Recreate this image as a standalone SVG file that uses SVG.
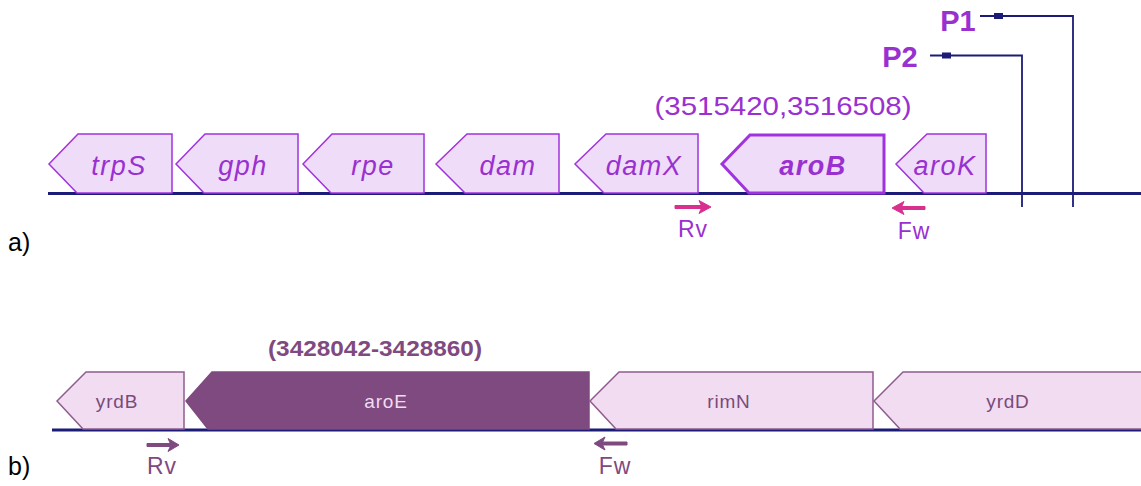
<svg xmlns="http://www.w3.org/2000/svg" width="1141" height="486" viewBox="0 0 1141 486">
<style>
.ga{fill:#efdcf8;stroke:#a033dd;stroke-width:1.5}
.gat{font-family:"Liberation Sans",Arial,sans-serif;font-style:italic;font-size:27px;letter-spacing:1.5px;fill:#9a30d0;text-anchor:middle}
.gb{fill:#f1dcf1;stroke:#8f5c8f;stroke-width:1.5}
.gbd{fill:#7f4a7f;stroke:#7f4a7f;stroke-width:1.5}
.gbt{font-family:"Liberation Sans",Arial,sans-serif;font-size:19px;letter-spacing:0.8px;fill:#7a4a7a;text-anchor:middle}
.base{stroke:#1c1c78;stroke-width:3;fill:none}
.prom{stroke:#1c1c78;stroke-width:1.8;fill:none}
.lbl{font-family:"Liberation Sans",Arial,sans-serif;font-size:25px;fill:#000}
.pa{fill:#d8308e;stroke:#d8308e;stroke-width:1;stroke-linejoin:round}
.pb{fill:#7f4a7f;stroke:#7f4a7f;stroke-width:1;stroke-linejoin:round}
.pta{font-family:"Liberation Sans",Arial,sans-serif;font-size:23px;letter-spacing:1px;fill:#9a30d0;text-anchor:middle}
.ptb{font-family:"Liberation Sans",Arial,sans-serif;font-size:23px;letter-spacing:1px;fill:#7f4a7f;text-anchor:middle}
</style>
<text class="lbl" x="8" y="251">a)</text>
<text class="lbl" x="8" y="475">b)</text>
<g id="connectors">
<line class="base" x1="48" y1="193.5" x2="1141" y2="193.5"/>
<line class="base" x1="52" y1="430" x2="1141" y2="430"/>
<polyline class="prom" points="980,16 1073,16 1073,207"/>
<polyline class="prom" points="930,55.5 1022,55.5 1022,207"/>
<rect x="994" y="13" width="9" height="6" fill="#1c1c78"/>
<rect x="942" y="52.5" width="9" height="6" fill="#1c1c78"/>
</g>
<g id="P1"><text x="958" y="31" font-family="Liberation Sans,Arial,sans-serif" font-weight="bold" font-size="29" fill="#9a30d0" text-anchor="middle">P1</text></g>
<g id="P2"><text x="900" y="67" font-family="Liberation Sans,Arial,sans-serif" font-weight="bold" font-size="29" fill="#9a30d0" text-anchor="middle">P2</text></g>
<text x="783" y="115" font-family="Liberation Sans,Arial,sans-serif" font-size="25" fill="#9a30d0" text-anchor="middle" textLength="257" lengthAdjust="spacingAndGlyphs">(3515420,3516508)</text>
<g id="trpS"><polygon class="ga" points="49,164 78,134 172,134 172,193 77,193"/><text class="gat" x="119" y="175">trpS</text></g>
<g id="gph"><polygon class="ga" points="176,164 205,134 298,134 298,193 204,193"/><text class="gat" x="243" y="175">gph</text></g>
<g id="rpe"><polygon class="ga" points="303,164 332,134 424,134 424,193 331,193"/><text class="gat" x="373" y="175">rpe</text></g>
<g id="dam"><polygon class="ga" points="436,164 467,134 559,134 559,193 465,193"/><text class="gat" x="508" y="175">dam</text></g>
<g id="damX"><polygon class="ga" points="575,164 606,134 698,134 698,193 604,193"/><text class="gat" x="644" y="175">damX</text></g>
<g id="aroB"><polygon class="ga" style="stroke-width:3" points="722,164 750,135 884,135 884,193 749,193"/><text class="gat" x="813" y="175" font-weight="bold">aroB</text></g>
<g id="aroK"><polygon class="ga" points="896,164 927,134 986,134 986,193 924,193"/><text class="gat" x="945" y="175">aroK</text></g>
<g id="Rv-a"><path class="pa" d="M675,205.5 H703 V208.5 H675 Z M699,200.5 L711,207 L699,213.5 L702,207 Z"/><text class="pta" x="693" y="237">Rv</text></g>
<g id="Fw-a"><path class="pa" d="M925,206.5 H896 V209.5 H925 Z M904,201.5 L892,208 L904,214.5 L901,208 Z"/><text class="pta" x="914" y="239">Fw</text></g>
<text x="375" y="356" font-family="Liberation Sans,Arial,sans-serif" font-weight="bold" font-size="22" fill="#7f4a7f" text-anchor="middle" textLength="214" lengthAdjust="spacingAndGlyphs">(3428042-3428860)</text>
<g id="yrdB"><polygon class="gb" points="57,401 86,372 184,372 184,429 83,429"/><text class="gbt" x="117" y="408">yrdB</text></g>
<g id="aroE"><polygon class="gbd" points="186,401 212,372 589,372 589,429 208,429"/><text class="gbt" x="386" y="408" style="fill:#f1dcf1">aroE</text></g>
<g id="rimN"><polygon class="gb" points="590,401 619,372 873,372 873,429 616,429"/><text class="gbt" x="729" y="408">rimN</text></g>
<g id="yrdD"><polygon class="gb" points="874,401 903,372 1142,372 1142,429 900,429"/><text class="gbt" x="1008" y="408">yrdD</text></g>
<g id="Rv-b"><path class="pb" d="M147,443.5 H172 V446.5 H147 Z M168,438.5 L179,445 L168,451.5 L171,445 Z"/><text class="ptb" x="162" y="474">Rv</text></g>
<g id="Fw-b"><path class="pb" d="M627,442 H598 V445 H627 Z M605,437 L594,443.5 L605,450 L602,443.5 Z"/><text class="ptb" x="615" y="474">Fw</text></g>
</svg>
